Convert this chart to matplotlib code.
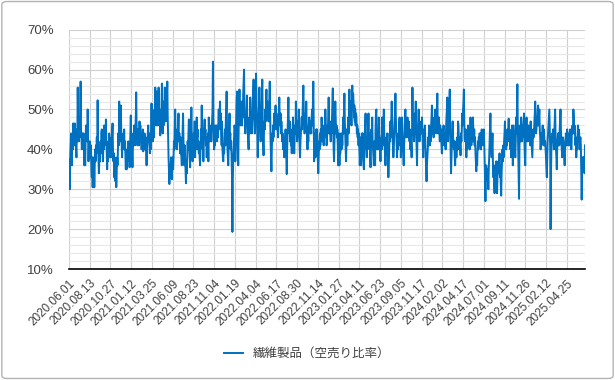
import numpy as np
import matplotlib
matplotlib.use('Agg')
from matplotlib import pyplot as plt
from matplotlib.patches import FancyBboxPatch
from matplotlib.ticker import MultipleLocator, FuncFormatter

plt.rcParams['font.family'] = ['Liberation Sans', 'Noto Sans CJK JP', 'DejaVu Sans']

series_name = '繊維製品（空売り比率）'

# category labels shown on the axis (every 50th trading day)
tick_labels = ['2020.06.01', '2020.08.13', '2020.10.27', '2021.01.12', '2021.03.25',
               '2021.06.09', '2021.08.23', '2021.11.04', '2022.01.19', '2022.04.04',
               '2022.06.17', '2022.08.30', '2022.11.14', '2023.01.27', '2023.04.11',
               '2023.06.23', '2023.09.05', '2023.11.17', '2024.02.02', '2024.04.17',
               '2024.07.01', '2024.09.11', '2024.11.26', '2025.02.12', '2025.04.25']
label_step = 50

# short selling ratio (%), one value per trading day
ratio = [
    37.5, 36, 30, 38, 41, 44, 39, 36, 42, 40, 46.5, 43, 45, 41, 46.5, 42, 44, 40, 38, 45, 42, 55.5, 47, 44, 42,
    48, 43, 50, 57, 45, 43, 40, 44, 41, 43, 44, 40, 36, 41, 36, 42, 46, 43, 45, 42, 50, 43, 37, 41, 40,
    42, 40, 38, 41, 35, 33, 38, 30.5, 36, 31, 38, 30.5, 36, 40, 37, 41, 39, 43, 40, 52.3, 42, 38, 34, 37, 40,
    37, 42, 39, 44, 45, 40, 43, 37, 42, 40, 46, 41, 44, 42, 47.5, 42, 39, 35, 40, 37, 42, 39, 44, 38, 40,
    42, 38, 43, 40, 44, 46.5, 40, 37, 39, 33, 38, 35, 32, 36, 30.5, 34, 38, 36, 40, 44, 41, 52, 45, 42, 47,
    51, 44, 41, 38, 43, 40, 44, 41, 45, 40, 42, 38, 35, 39, 35, 40, 37, 39, 42, 38, 41, 35.5, 40, 44, 48.5,
    42, 44, 39, 35.5, 40, 43, 41, 46, 43, 41, 45, 48, 54.3, 46, 43, 41, 45, 42, 44, 41, 47, 43, 46, 42, 44,
    40, 43, 41, 45, 39.5, 43, 40, 44, 42, 40, 43, 39, 36, 40, 42, 44, 46, 42, 44, 41, 39, 43, 40, 46, 51.5,
    45, 48, 42, 44, 48, 43, 50, 47, 55.5, 49, 46, 48, 54.5, 46, 50, 47, 55.5, 49, 46, 50, 43.5, 48, 45, 51, 56.5,
    50, 44, 48, 46, 52, 48, 55.5, 50, 47, 52, 49, 53, 57, 48, 43, 38, 35, 31.3, 36, 33, 35, 38, 34, 32.5, 36,
    38, 35, 38, 42, 40, 45, 50, 44, 41, 43, 40, 45, 42, 46, 49, 42, 44, 41, 39, 43, 40, 38, 36, 41, 45,
    49, 42, 39, 36, 41, 38, 35, 31.5, 36, 34, 38, 42, 40, 44, 47.5, 41, 38, 35.5, 41, 45, 50.5, 44, 41, 37, 42,
    40, 44, 41, 47, 38, 43, 40, 45, 48, 43, 45, 40, 42, 39, 41, 38, 36, 41, 45, 43, 51, 44, 40, 42, 37,
    43, 45, 47.5, 43, 45, 41, 43, 38, 42, 40, 44, 37, 48, 44, 42, 46, 43, 45, 42, 45, 47, 50, 62, 48, 43,
    40, 44, 41, 46, 43, 44, 46, 42, 45, 43, 47, 50, 45, 48, 52, 46, 49, 44, 41, 47, 40, 38, 37, 41, 39,
    43, 45, 41, 47, 50, 54.5, 45, 40, 38, 36, 41, 45, 49, 43, 44, 40, 42, 38, 33, 19.3, 32, 38, 40, 43, 46,
    45, 37, 42, 48, 52, 54.5, 44, 40, 36, 45, 50, 55, 48, 46, 50, 47, 52, 46, 50, 48, 54, 57, 60, 50, 47,
    44, 48, 46, 50, 53.5, 47, 44, 42, 40, 45, 48, 44, 53, 48, 46, 49, 44, 48, 51, 54, 57.5, 50, 47, 44, 50,
    54, 59, 52, 47, 44, 38, 43, 48, 51, 55.5, 49, 46, 42, 47, 50, 53, 57.5, 48, 42, 38.5, 44, 47, 45, 50, 47,
    52, 55, 50, 52, 48, 51, 47, 50, 53, 57, 49, 42, 38, 34.5, 40, 44, 42, 46, 43, 47, 49, 45, 48, 51, 47,
    49, 45, 48, 46, 43, 47, 50, 53, 48, 46, 49, 44, 47, 45, 42, 44, 40, 43, 41, 38, 42, 40, 45, 41, 38,
    33.8, 40, 44, 48, 53, 46, 44, 47, 42, 45, 41, 43, 39, 43, 45, 48, 43, 41, 39, 43, 46, 44, 52, 47, 45,
    42, 44, 47, 45, 50, 44, 41, 38, 42, 44, 46, 48, 45, 49, 52, 56, 50, 46, 44, 46, 49, 47, 52, 46, 43,
    40, 44, 42, 46, 48, 45, 47, 44, 46, 44, 48, 50, 46, 52, 57, 46, 37, 41, 44, 38, 43, 45, 42, 45, 40,
    37, 34, 38, 42, 40, 44, 41, 45, 43, 48, 45, 42, 46, 44, 41, 44, 46, 43, 50, 46, 44, 41, 42, 46, 44,
    49, 53, 47, 44, 47, 44, 42, 46, 44, 48, 51, 55.3, 45, 40, 37, 42, 47, 52, 48, 44, 46, 43, 45, 40, 36,
    40, 44, 36, 41, 39, 42, 44, 40, 43, 41, 45, 48, 44, 50, 54, 47, 43, 40, 37, 42, 45, 41, 45, 48, 44,
    50, 55, 48, 52, 47, 49, 46, 51, 56, 50, 54, 52, 48, 51, 47, 50, 46, 49, 48, 44, 46, 43, 45, 41, 44,
    40, 36, 40, 43, 36, 41, 44, 39, 44, 38, 36, 35, 40, 44, 46, 49, 43, 40, 38, 42, 40, 44, 49, 43, 41,
    44, 38, 35.5, 40, 45, 43, 48, 42, 40, 38, 36, 42, 39, 36, 45, 49, 50, 44, 40, 42, 44, 40, 48, 44, 42,
    39, 37, 40, 43, 40, 48, 44, 41, 45, 50, 44, 41, 38, 36, 40, 43, 41, 44, 40, 37, 33, 36, 40, 44, 42,
    47, 43, 48, 52, 47, 43, 41, 38, 40, 44, 47, 50, 54, 48, 44, 41, 38, 42, 40, 44, 42, 46, 48, 41, 44,
    38, 42, 45, 48, 43, 40, 38, 36, 41, 44, 47, 50, 45, 43, 46, 44, 48, 45, 43, 47, 44, 42, 45, 40, 43,
    41, 38, 45, 55.5, 48, 44, 45, 42, 46, 49, 47, 52, 45, 40, 36, 42, 45, 47, 50, 46, 42, 45, 44, 46, 47,
    44, 48, 44, 41, 38, 42, 45, 43, 46, 42, 39, 35, 32, 36, 38, 40, 43, 41, 46, 44, 41, 44, 42, 46, 48,
    51, 47, 44, 46, 43, 46, 48, 45, 50, 47, 44, 45, 49, 54, 47, 44, 45, 48, 44, 42, 46, 43, 45, 41, 39,
    43, 41, 44, 46, 42, 44, 41, 43, 40, 45, 48, 50, 53, 44, 42, 45, 48, 52, 55, 46, 40, 34, 38, 41, 44,
    47, 43, 42, 40, 42, 38, 36, 40, 42, 38, 41, 43, 40, 47, 46, 42, 40, 43, 41, 38.5, 44, 42, 45, 49, 46,
    50, 52, 55, 47, 43, 42, 45, 41, 38, 42, 40, 44, 46, 43, 45, 42, 40, 44, 48, 44, 41, 44, 42, 46, 48,
    44, 42, 45, 41, 43, 39, 37, 34.5, 38, 36, 40, 42, 40, 43, 41, 44, 42, 44, 40, 42, 45, 43, 41, 44, 42,
    45, 42, 38, 33, 27, 33, 36, 34, 35, 32, 34, 30, 35, 38, 42, 45, 49, 43, 40, 38, 41, 44, 37, 33, 36,
    31, 29, 33, 36, 34, 37, 32, 29, 33, 35, 37, 34, 36, 39, 33, 36, 31, 28.4, 34, 37, 40, 37, 41, 38, 42,
    44, 47, 42, 44, 40, 43, 41, 45, 42, 44, 47.7, 43, 45, 42, 40, 44, 38, 42, 46, 44, 36, 41, 46, 44, 42,
    40, 38, 42, 48, 44, 50, 56.3, 46, 40, 33, 27.6, 40, 46, 44, 42, 48, 45, 42, 43, 46, 44, 47, 49, 42, 38,
    36, 42, 45, 48, 44, 42, 45, 43, 46, 44, 42, 44, 41, 47, 44, 42, 40, 38, 42, 45, 43, 44, 47, 49, 52,
    47, 44, 45, 48, 46, 50, 51, 46, 48, 50, 45, 43, 40, 42, 44, 42, 44, 46, 43, 41, 45, 43, 41, 42, 40,
    38, 35, 33, 38, 42, 44, 46, 48, 50, 45, 41, 20, 34, 40, 43, 44, 42, 45, 43, 40, 44, 47, 50, 44, 40,
    38, 35, 40, 42, 44, 41, 44, 41, 45, 47, 50, 45, 42, 40, 38, 41, 43, 42, 40, 38, 36, 40, 42, 44, 41,
    43, 45, 42, 44, 41, 43, 41, 44, 45, 42, 44, 40, 43, 45, 46, 44, 50, 48, 44, 46, 44, 41, 43, 38, 41,
    40, 43, 46, 42, 45, 44, 40, 42, 43, 41, 35, 27.4, 34, 38, 38, 35, 38, 36, 34, 41,
]

x = np.arange(len(ratio))
tick_pos = np.arange(len(tick_labels)) * label_step

fig = plt.figure(figsize=(6.15, 3.80), dpi=100)
ax = fig.add_axes([0.1122, 0.2921, 0.8390, 0.6297])

ax.plot(x, ratio, color='#0070C0', linewidth=1.4, label=series_name, zorder=3)

ax.set_xlim(0, len(ratio) - 1)
ax.set_ylim(10, 70)
ax.yaxis.set_major_locator(MultipleLocator(10))
ax.yaxis.set_minor_locator(MultipleLocator(2))
ax.yaxis.set_major_formatter(FuncFormatter(lambda v, p: f'{v:.0f}%'))
ax.set_xticks(tick_pos)
ax.set_xticklabels(tick_labels, rotation=45, ha='right', rotation_mode='anchor')

ax.grid(True, which='major', color='#d0d0d0', linewidth=0.8)
ax.grid(True, which='minor', axis='y', color='#e8e8e8', linewidth=0.8)
ax.set_axisbelow(True)

for side in ['top', 'right', 'left']:
    ax.spines[side].set_visible(False)
ax.spines['bottom'].set_color('black')
ax.spines['bottom'].set_linewidth(1.2)
ax.tick_params(axis='both', which='both', length=0)
ax.tick_params(axis='y', labelsize=9.5, colors='#404040', pad=11)
ax.tick_params(axis='x', labelsize=8.5, colors='#404040', pad=6)

fig.legend(loc='center', bbox_to_anchor=(0.5, 0.068), frameon=False,
           fontsize=9, handlelength=1.5, labelcolor='#404040')

border = FancyBboxPatch((0.003, 0.004), 0.994, 0.992, boxstyle='round,pad=0,rounding_size=0.008',
                        transform=fig.transFigure, fill=False, edgecolor='#b4b4b4', linewidth=1.0)
fig.patches.append(border)

fig.savefig('out.png', dpi=100)
